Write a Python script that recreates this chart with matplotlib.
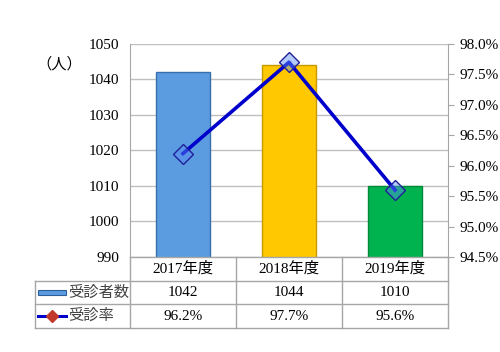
"""Exam attendance chart: bars for count, line for rate, data table below."""

import matplotlib
matplotlib.use("Agg")
import matplotlib.pyplot as plt
from matplotlib.lines import Line2D
from matplotlib.patches import Rectangle
from matplotlib.transforms import blended_transform_factory

years = ["2017年度", "2018年度", "2019年度"]
counts = [1042, 1044, 1010]
rates = [96.2, 97.7, 95.6]
count_labels = ["1042", "1044", "1010"]
rate_labels = ["96.2%", "97.7%", "95.6%"]
count_name = "受診者数"
rate_name = "受診率"
unit_label = "（人）"

bar_colors = ["#5b9be0", "#ffc800", "#00b34f"]
bar_edges = ["#3a6fae", "#c79a00", "#008a3a"]
grid_c = "#c0c0c0"
table_c = "#a6a6a6"

plt.rcParams["font.family"] = ["Liberation Serif", "Noto Sans CJK JP", "DejaVu Sans"]
plt.rcParams["font.size"] = 11

fig = plt.figure(figsize=(5.0, 3.52), dpi=100)
ax = fig.add_axes([0.26, 0.270, 0.636, 0.605])
x = list(range(len(years)))

ax.bar(x, counts, width=0.51, color=bar_colors, edgecolor=bar_edges,
       linewidth=1.0, zorder=2)
ax.set_xlim(-0.5, len(years) - 0.5)
ax.set_ylim(990, 1050)
ax.set_yticks(range(990, 1051, 10))
ax.set_xticks([])
ax.grid(axis="y", color=grid_c, linewidth=1.0, zorder=0)
ax.tick_params(axis="y", length=0, pad=8)
for s in ["top", "bottom"]:
    ax.spines[s].set_visible(False)
ax.spines["left"].set_color(table_c)
ax.spines["right"].set_visible(False)

ax2 = ax.twinx()
ax2.plot(x, rates, color="#0000cc", linewidth=2.6, marker="D", markersize=10,
         markerfacecolor=(0.35, 0.55, 0.95, 0.45), markeredgecolor="#20209a",
         markeredgewidth=1.0, zorder=3)
ax2.set_ylim(94.5, 98.0)
ax2.set_yticks([94.5 + 0.5 * i for i in range(8)])
ax2.set_yticklabels([f"{94.5 + 0.5 * i:.1f}%" for i in range(8)])
ax2.tick_params(axis="y", length=4, color=table_c, pad=4)
for s in ["top", "bottom", "left"]:
    ax2.spines[s].set_visible(False)
ax2.spines["right"].set_color(table_c)

fig.text(0.118, 0.818, unit_label, ha="center", va="center", fontsize=11)

# data table under the plot
tr = blended_transform_factory(ax.transData, ax.transAxes)
row_h = 0.111
left_x = -1.396
n = len(years)
lines = []
# horizontal lines
lines.append(([-0.5, n - 0.5], [0, 0]))
for k in (1, 2, 3):
    lines.append(([left_x, n - 0.5], [-k * row_h, -k * row_h]))
# vertical lines
lines.append(([left_x, left_x], [-row_h, -3 * row_h]))
for xv in [-0.5 + i for i in range(n + 1)]:
    lines.append(([xv, xv], [0, -3 * row_h]))
for xs, ys in lines:
    ax.add_line(Line2D(xs, ys, transform=tr, color=table_c, linewidth=1.0,
                       clip_on=False))

for i in range(n):
    ax.text(x[i], -0.5 * row_h, years[i], transform=tr, ha="center", va="center")
    ax.text(x[i], -1.5 * row_h, count_labels[i], transform=tr, ha="center", va="center")
    ax.text(x[i], -2.5 * row_h, rate_labels[i], transform=tr, ha="center", va="center")

# legend keys
ax.add_patch(Rectangle((left_x + 0.03, -1.5 * row_h - 0.013), 0.26, 0.026,
                       transform=tr, facecolor="#5b9be0", edgecolor="#2f5f9a",
                       linewidth=0.8, clip_on=False))
ax.add_line(Line2D([left_x + 0.03, left_x + 0.29], [-2.5 * row_h, -2.5 * row_h],
                   transform=tr, color="#0000cc", linewidth=2.2, clip_on=False))
ax.add_line(Line2D([left_x + 0.16], [-2.5 * row_h], transform=tr, marker="D",
                   markersize=6, color="#c0392b", clip_on=False))
ax.text(left_x + 0.31, -1.5 * row_h, count_name, transform=tr, ha="left",
        va="center", color="#444444")
ax.text(left_x + 0.31, -2.5 * row_h, rate_name, transform=tr, ha="left",
        va="center", color="#444444")

fig.savefig("out.png", dpi=100)
